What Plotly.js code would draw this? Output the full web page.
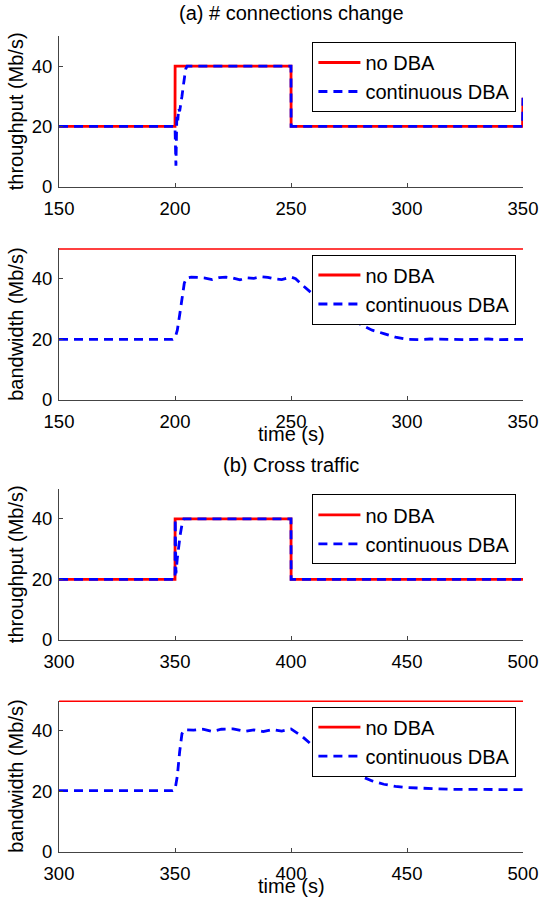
<!DOCTYPE html>
<html><head><meta charset="utf-8">
<script src="https://cdn.plot.ly/plotly-3.0.1.min.js"></script>
<style>html,body{margin:0;padding:0;background:#fff}#chart{width:539px;height:900px}</style>
</head><body><div id="chart"></div>
<script>
// ---------- data ----------
const seriesNames = ['no DBA', 'continuous DBA'];
const panelTitles = ['(a) # connections change', '(b) Cross traffic'];
const yTitles = ['throughput (Mb/s)', 'bandwidth (Mb/s)'];
const xTitle = 'time (s)';
const xTicksA = [150, 200, 250, 300, 350];
const xTicksB = [300, 350, 400, 450, 500];
const yTicks = [0, 20, 40];

// (a) throughput
const aThrTimeNo = [150, 200, 200.05, 250, 250.05, 349.8, 350];
const aThrNo     = [20, 20, 40, 40, 20, 20, 29.5];
const aThrTimeDBA = [150, 200, 200.4, 200.8, 201.2, 201.6, 202, 202.5, 203, 203.5, 204, 204.6, 205.2, 250, 250.05, 349.8, 350];
const aThrDBA     = [20, 20, 7, 24, 22, 26, 25, 27, 30, 33, 36, 39, 40, 40, 20, 20, 29.5];

// (a) bandwidth
const aBwTimeNo = [150, 350];
const aBwNo     = [50, 50];
const aBwTimeDBA = [150, 160, 170, 180, 190, 199, 200, 201, 202, 203, 204, 205, 207, 210, 213, 216, 219, 222, 225, 228, 231, 234, 237, 240, 243, 246, 250, 252, 255, 260, 267, 270, 275, 279, 285, 290, 292, 295, 300, 305, 310, 315, 320, 325, 330, 335, 340, 345, 350];
const aBwDBA     = [20, 20, 20, 20.2, 20, 20, 20.4, 23, 28, 34, 38.5, 40.2, 40.5, 40.4, 40.2, 39.7, 40.3, 40.5, 40.2, 39.6, 40.3, 40.1, 40.6, 40.4, 39.9, 39.7, 40.5, 40, 37.8, 34.5, 30.5, 29, 26.8, 25.3, 23, 21.9, 21.4, 20.7, 20, 19.9, 20.1, 20, 20.1, 19.9, 20, 20.1, 19.9, 20, 20];

// (b) throughput
const bThrTimeNo = [300, 350, 350.05, 400, 400.05, 500];
const bThrNo     = [20, 20, 40, 40, 20, 20];
const bThrTimeDBA = [300, 350, 350.1, 350.4, 351, 351.6, 352.3, 353, 353.8, 355, 400, 400.05, 500];
const bThrDBA     = [20, 20, 40, 22, 27, 31, 35, 38, 40, 40, 40, 20, 20];

// (b) bandwidth
const bBwTimeNo = [300, 500];
const bBwNo     = [50, 50];
const bBwTimeDBA = [300, 310, 320, 330, 340, 349, 350, 351, 352, 353, 354, 358, 362, 366, 370, 375, 380, 384, 388, 392, 396, 400, 405, 410, 415, 420, 425, 430, 435, 440, 445, 450, 460, 470, 480, 490, 500];
const bBwDBA     = [20.2, 20.2, 20.1, 20.2, 20.2, 20.2, 20.5, 25, 33, 39, 40.3, 40.2, 40.5, 39.8, 40.5, 40.6, 39.8, 40.3, 39.7, 40.4, 39.9, 40.6, 38, 34.5, 31.2, 28.6, 26.3, 25, 23.4, 22.3, 21.6, 21.2, 20.8, 20.6, 20.6, 20.5, 20.5];

// ---------- build ----------
const FONT = 'Liberation Sans, Arial, Helvetica, sans-serif';
const RED = '#ff0000', BLUE = '#0000ff';
const panels = [
  {noX: aThrTimeNo, noY: aThrNo, dX: aThrTimeDBA, dY: aThrDBA, xt: xTicksA, yTitle: yTitles[0], xTitle: false},
  {noX: aBwTimeNo, noY: aBwNo, dX: aBwTimeDBA, dY: aBwDBA, xt: xTicksA, yTitle: yTitles[1], xTitle: true},
  {noX: bThrTimeNo, noY: bThrNo, dX: bThrTimeDBA, dY: bThrDBA, xt: xTicksB, yTitle: yTitles[0], xTitle: false},
  {noX: bBwTimeNo, noY: bBwNo, dX: bBwTimeDBA, dY: bBwDBA, xt: xTicksB, yTitle: yTitles[1], xTitle: true},
];
// pixel geometry (height 900)
const H = 900;
const plotPx = [[36, 186.7], [248.3, 400], [488.5, 640], [700.5, 851.7]];
const legendTopPx = [42, 254.5, 494.3, 706.7];
const xTitlePx = [null, 434, null, 886];

const traces = [];
const layout = {
  width: 539, height: 900,
  margin: {l: 59, r: 16, t: 0, b: 0, pad: 0},
  paper_bgcolor: '#fff', plot_bgcolor: '#fff',
  font: {family: FONT, size: 20, color: '#000'},
  showlegend: true,
  annotations: []
};
const axisCommon = {
  showline: true, linecolor: '#444', linewidth: 1, mirror: false,
  ticks: 'inside', ticklen: 4, tickwidth: 1, tickcolor: '#444',
  showgrid: false, zeroline: false,
  tickfont: {family: FONT, size: 18.5, color: '#000'}
};

panels.forEach((p, i) => {
  const n = i + 1;
  const xa = 'x' + (n === 1 ? '' : n), ya = 'y' + (n === 1 ? '' : n);
  const lg = 'legend' + (n === 1 ? '' : n);
  traces.push({x: p.noX, y: p.noY, xaxis: xa, yaxis: ya, legend: lg, name: seriesNames[0], mode: 'lines',
    line: {color: RED, width: 2.8}, hoverinfo: 'skip'});
  traces.push({x: p.dX, y: p.dY, xaxis: xa, yaxis: ya, legend: lg, name: seriesNames[1], mode: 'lines',
    line: {color: BLUE, width: 2.8, dash: '9px,6px'}, hoverinfo: 'skip'});
  const [top, bot] = plotPx[i];
  const xKey = 'xaxis' + (n === 1 ? '' : n), yKey = 'yaxis' + (n === 1 ? '' : n);
  layout[xKey] = Object.assign({}, axisCommon, {
    domain: [0, 1], anchor: ya, range: [p.xt[0], p.xt[p.xt.length - 1]],
    tickmode: 'array', tickvals: p.xt, ticktext: p.xt.map(String), ticklabelstandoff: 5
  });
  layout[yKey] = Object.assign({}, axisCommon, {
    domain: [1 - bot / H, 1 - top / H], anchor: xa, range: [0, 50],
    tickmode: 'array', tickvals: yTicks, ticktext: yTicks.map(String), ticklabelstandoff: 2,
    title: {text: p.yTitle, font: {family: FONT, size: 20, color: '#000'}, standoff: 2}
  });
  layout[lg] = {
    x: 0.9858, xanchor: 'right', y: 1 - legendTopPx[i] / H, yanchor: 'top',
    bgcolor: '#fff', bordercolor: '#000', borderwidth: 1,
    font: {family: FONT, size: 20, color: '#000'},
    itemwidth: 42, tracegroupgap: 0, itemclick: false, itemdoubleclick: false
  };
  if (p.xTitle) {
    layout.annotations.push({text: xTitle, xref: 'paper', yref: 'paper', x: 0.5, y: 1 - xTitlePx[i] / H,
      xanchor: 'center', yanchor: 'middle', showarrow: false, font: {family: FONT, size: 20, color: '#000'}});
  }
});

layout.annotations.push({text: panelTitles[0], xref: 'paper', yref: 'paper', x: 0.5, y: 1 - 13 / H,
  xanchor: 'center', yanchor: 'middle', showarrow: false, font: {family: FONT, size: 20, color: '#000'}});
layout.annotations.push({text: panelTitles[1], xref: 'paper', yref: 'paper', x: 0.5, y: 1 - 465 / H,
  xanchor: 'center', yanchor: 'middle', showarrow: false, font: {family: FONT, size: 20, color: '#000'}});

Plotly.newPlot('chart', traces, layout, {staticPlot: true, displayModeBar: false});
</script></body></html>
